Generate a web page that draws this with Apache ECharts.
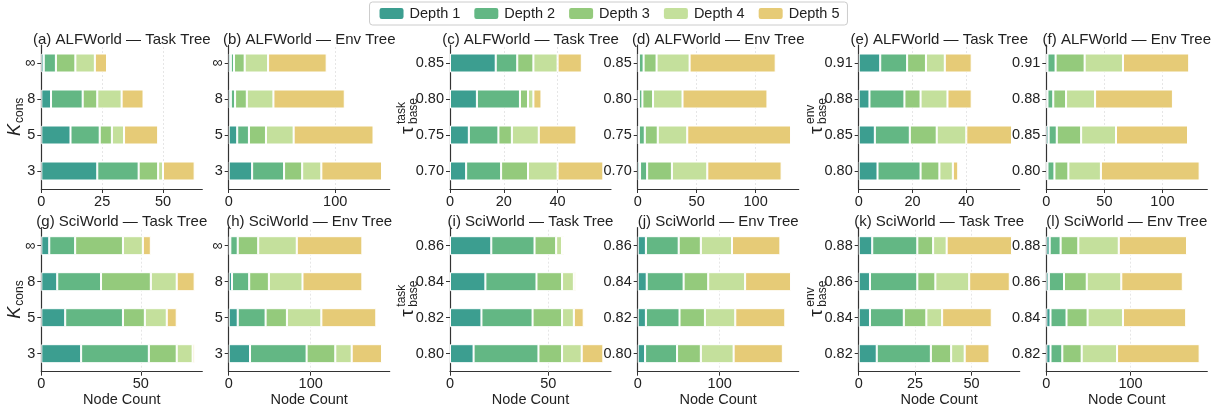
<!DOCTYPE html>
<html><head><meta charset="utf-8">
<script src="https://cdn.jsdelivr.net/npm/echarts/dist/echarts.min.js"></script>
<style>html,body{margin:0;padding:0;background:#fff}#c{width:1217px;height:410px}</style>
</head><body><div id="c"></div>
<script>
// ---- data ----
const depthNames = ['Depth 1', 'Depth 2', 'Depth 3', 'Depth 4', 'Depth 5'];
const kLabels = ['3', '5', '8', '∞'];
const tauTaskAlf = ['0.70', '0.75', '0.80', '0.85'];
const tauEnvAlf = ['0.80', '0.85', '0.88', '0.91'];
const tauTaskSci = ['0.80', '0.82', '0.84', '0.86'];
const tauEnvSci = ['0.82', '0.84', '0.86', '0.88'];
// each panel: five depth arrays, values listed bottom-to-top category order
const panelA = [[23, 12, 4, 1], [17, 12, 13, 5], [8, 5, 6, 8], [2, 5, 10, 8], [13, 14, 9, 5]];
const panelB = [[22, 8, 2, 2], [30, 11, 4, 3], [17, 16, 11, 10], [18, 26, 25, 22], [57, 75, 67, 55]];
const panelC = [[6, 7, 10, 17], [13, 11, 16, 8], [10, 5, 3, 6], [11, 10, 2, 9], [17, 14, 3, 9]];
const panelD = [[2, 1, 1, 1], [6, 5, 3, 4], [21, 11, 9, 11], [30, 25, 25, 28], [63, 88, 72, 73]];
const panelE = [[7, 6, 4, 8], [16, 13, 13, 10], [7, 10, 6, 7], [5, 11, 10, 7], [2, 17, 9, 10]];
const panelF = [[1, 2, 1, 1], [6, 7, 5, 7], [12, 21, 11, 25], [28, 30, 25, 33], [85, 62, 67, 57]];
const panelG = [[20, 12, 8, 4], [34, 29, 22, 13], [14, 11, 25, 24], [8, 11, 13, 10], [1, 5, 9, 4]];
const panelH = [[26, 11, 4, 2], [69, 34, 21, 9], [35, 26, 24, 25], [20, 42, 41, 47], [37, 67, 73, 80]];
const panelI = [[12, 16, 18, 21], [33, 26, 26, 22], [12, 15, 13, 11], [10, 6, 6, 3], [11, 5, 1, 1]];
const panelJ = [[9, 10, 11, 10], [39, 41, 45, 40], [29, 31, 30, 27], [40, 37, 45, 38], [60, 61, 56, 59]];
const panelK = [[8, 5, 5, 6], [24, 15, 21, 20], [9, 10, 8, 7], [6, 7, 15, 6], [11, 22, 18, 29]];
const panelL = [[5, 5, 3, 4], [14, 19, 18, 13], [23, 25, 27, 21], [42, 42, 41, 48], [98, 75, 73, 81]];
const titles = ['(a) ALFWorld — Task Tree', '(b) ALFWorld — Env Tree', '(c) ALFWorld — Task Tree',
  '(d) ALFWorld — Env Tree', '(e) ALFWorld — Task Tree', '(f) ALFWorld — Env Tree',
  '(g) SciWorld — Task Tree', '(h) SciWorld — Env Tree', '(i) SciWorld — Task Tree',
  '(j) SciWorld — Env Tree', '(k) SciWorld — Task Tree', '(l) SciWorld — Env Tree'];
const tickSteps = [25, 100, 20, 50, 20, 50, 50, 100, 50, 100, 25, 100];

// ---- layout / style ----
const FONT = '"Liberation Sans", Arial, sans-serif';
const colors = ['#3c9e90', '#63b784', '#94ca7c', '#c4e09c', '#e6cb77'];
const colLeft = [41.3, 228.7, 450, 637.7, 858.7, 1046.3];
const colW = 161;
const rowTop = [45, 227.7];
const gridH = 144;
const titleY = [39.7, 221.7];

const panels = [
  { vals: panelA, cats: kLabels, yName: 'k' }, { vals: panelB, cats: kLabels },
  { vals: panelC, cats: tauTaskAlf, yName: 'task' }, { vals: panelD, cats: tauTaskAlf },
  { vals: panelE, cats: tauEnvAlf, yName: 'env' }, { vals: panelF, cats: tauEnvAlf },
  { vals: panelG, cats: kLabels, yName: 'k' }, { vals: panelH, cats: kLabels },
  { vals: panelI, cats: tauTaskSci, yName: 'task' }, { vals: panelJ, cats: tauTaskSci },
  { vals: panelK, cats: tauEnvSci, yName: 'env' }, { vals: panelL, cats: tauEnvSci }
];

const grid = [], xAxis = [], yAxis = [], series = [], graphic = [];
panels.forEach((p, i) => {
  const row = Math.floor(i / 6), col = i % 6;
  const step = tickSteps[i];
  let maxTot = 0;
  for (let c = 0; c < p.cats.length; c++) {
    let s = 0; p.vals.forEach(d => s += d[c]); maxTot = Math.max(maxTot, s);
  }
  const xmax = maxTot * 1.05;
  const ticks = [];
  for (let v = 0; v <= xmax; v += step) ticks.push(v);
  grid.push({ left: colLeft[col], top: rowTop[row], width: colW, height: gridH });
  xAxis.push({
    gridIndex: i, type: 'value', min: 0, max: xmax, interval: step,
    axisLine: { show: true, lineStyle: { color: '#333', width: 1.2 } },
    axisTick: { show: true, length: 4, lineStyle: { color: '#333', width: 1 }, customValues: ticks },
    axisLabel: { fontSize: 14.5, color: '#222', fontFamily: FONT, margin: 5, customValues: ticks,
      formatter: v => (Math.abs(v / step - Math.round(v / step)) < 1e-9 ? String(v) : '') },
    splitLine: { show: false },
    name: row === 1 ? 'Node Count' : '', nameLocation: 'middle', nameGap: 18,
    nameTextStyle: { fontSize: 14.5, color: '#222', fontFamily: FONT }
  });
  yAxis.push({
    gridIndex: i, type: 'category', data: p.cats,
    axisLine: { show: true, lineStyle: { color: '#333', width: 1.2 } },
    axisTick: { show: true, alignWithLabel: true, length: 4, lineStyle: { color: '#333' } },
    axisLabel: { fontSize: 14.5, color: '#222', fontFamily: FONT, margin: 6 },
    splitLine: { show: false }
  });
  series.push({
    type: 'line', xAxisIndex: i, yAxisIndex: i, data: [], silent: true, z: 1, animation: false,
    markLine: { silent: true, z: 1, symbol: ['none', 'none'], label: { show: false }, animation: false,
      lineStyle: { color: '#e0e0e0', type: [2, 2], width: 0.8 },
      data: ticks.filter(v => v > 0).map(v => ({ xAxis: v })) }
  });
  p.vals.forEach((d, k) => {
    series.push({
      type: 'bar', name: depthNames[k], stack: 's' + i, xAxisIndex: i, yAxisIndex: i,
      data: d, barWidth: 19, z: 3, animation: false,
      itemStyle: { color: colors[k], borderColor: '#fff', borderWidth: 1 }
    });
  });
  graphic.push({ type: 'text', x: colLeft[col] + colW / 2, y: titleY[row], silent: true,
    style: { text: titles[i], fontSize: 15, fontFamily: FONT, fill: '#222', align: 'center', verticalAlign: 'middle' } });
  const cy = rowTop[row] + gridH / 2;
  if (p.yName === 'k') {
    graphic.push({ type: 'group', x: 15, y: cy, rotation: Math.PI / 2, silent: true, children: [
      { type: 'text', x: -19, y: 0, style: { text: 'K', fontSize: 18, fontStyle: 'italic', fontFamily: FONT, fill: '#222', align: 'left', verticalAlign: 'middle' } },
      { type: 'text', x: -6, y: 5, style: { text: 'cons', fontSize: 12, fontFamily: FONT, fill: '#222', align: 'left', verticalAlign: 'middle' } }
    ] });
  } else if (p.yName) {
    graphic.push({ type: 'group', x: colLeft[col] - 42, y: cy, rotation: Math.PI / 2, silent: true, children: [
      { type: 'text', x: -17, y: 0, style: { text: 'τ', fontSize: 19, fontFamily: FONT, fill: '#222', align: 'left', verticalAlign: 'middle' } },
      { type: 'text', x: -7, y: -6, style: { text: p.yName, fontSize: 12, fontFamily: FONT, fill: '#222', align: 'left', verticalAlign: 'middle' } },
      { type: 'text', x: -7, y: 6, style: { text: 'base', fontSize: 12, fontFamily: FONT, fill: '#222', align: 'left', verticalAlign: 'middle' } }
    ] });
  }
});

const chart = echarts.init(document.getElementById('c'), null, { renderer: 'canvas' });
chart.setOption({
  backgroundColor: '#fff',
  animation: false,
  textStyle: { fontFamily: FONT },
  legend: {
    data: depthNames, top: 2, left: 'center', itemWidth: 26, itemHeight: 13, itemGap: 12,
    borderColor: '#ccc', borderWidth: 1, borderRadius: 3, padding: [4, 8],
    textStyle: { fontSize: 14.5, color: '#222', fontFamily: FONT }
  },
  grid, xAxis, yAxis, series, graphic
});
</script></body></html>
